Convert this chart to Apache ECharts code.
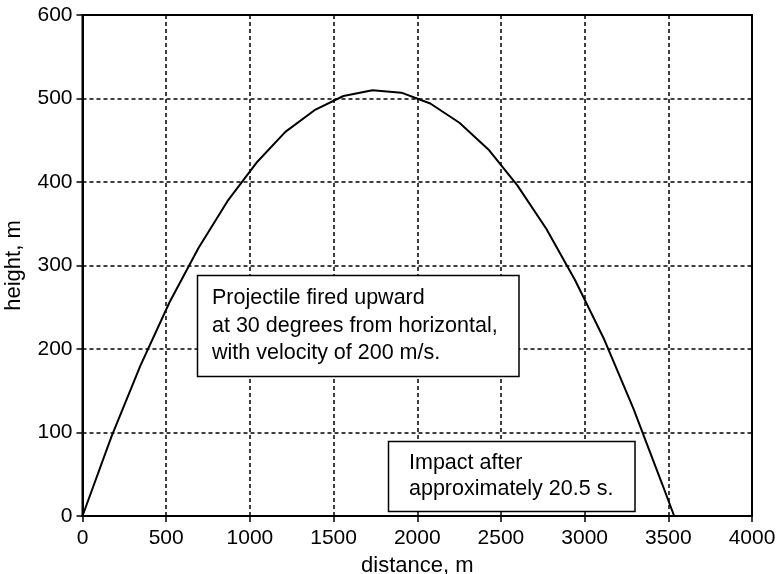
<!DOCTYPE html>
<html>
<head>
<meta charset="utf-8">
<script src="https://cdn.jsdelivr.net/npm/echarts@6/dist/echarts.min.js"></script>
<style>html,body{margin:0;padding:0;background:#fff;}#c{width:780px;height:574px;}</style>
</head>
<body>
<div id="c"></div>
<script>
// Trajectory (distance in m, height in m)
var distance = [0, 173, 346, 520, 693, 866, 1039, 1212, 1386, 1559, 1732, 1905, 2078, 2252, 2425, 2598, 2771, 2944, 3118, 3291, 3464, 3535];
var height   = [0, 95, 180, 256, 321, 377, 423, 460, 486, 503, 510, 507, 494, 471, 439, 396, 344, 282, 211, 129, 38, 0];
var xTicks = [0, 500, 1000, 1500, 2000, 2500, 3000, 3500, 4000];
var yTicks = [0, 100, 200, 300, 400, 500, 600];
var note1 = ['Projectile fired upward', 'at 30 degrees from horizontal,', 'with velocity of 200 m/s.'];
var note2 = ['Impact after', 'approximately 20.5 s.'];

var FONT = '"Liberation Sans", Arial, Helvetica, sans-serif';
var points = distance.map(function (d, i) { return [d, height[i]]; });

var chart = echarts.init(document.getElementById('c'), null, {renderer: 'canvas'});
chart.setOption({
  animation: false,
  backgroundColor: '#fff',
  grid: {left: 82.5, right: 28, top: 15, bottom: 58, outerBoundsMode: 'none', containLabel: false,
         show: true, borderColor: '#000', borderWidth: 2, backgroundColor: 'transparent'},
  xAxis: {
    type: 'value', min: xTicks[0], max: xTicks[xTicks.length - 1], interval: 500,
    name: 'distance, m', nameLocation: 'middle', nameGap: 39,
    nameTextStyle: {color: '#000', fontSize: 22, fontFamily: FONT},
    axisLine: {show: true, lineStyle: {color: '#000', width: 2}},
    axisTick: {show: true, inside: false, length: 6, lineStyle: {color: '#000', width: 1.5}},
    axisLabel: {color: '#000', fontSize: 21, fontFamily: FONT, margin: 12, formatter: function (v) { return String(v); }},
    splitLine: {show: true, lineStyle: {color: '#000', width: 1.5, type: [4, 3]}}
  },
  yAxis: {
    type: 'value', min: yTicks[0], max: yTicks[yTicks.length - 1], interval: 100,
    name: 'height, m', nameLocation: 'middle', nameGap: 58,
    nameTextStyle: {color: '#000', fontSize: 22, fontFamily: FONT},
    axisLine: {show: true, lineStyle: {color: '#000', width: 2}},
    axisTick: {show: true, inside: false, length: 6, lineStyle: {color: '#000', width: 1.5}},
    axisLabel: {color: '#000', fontSize: 21, fontFamily: FONT, margin: 10, formatter: function (v) { return String(v); }},
    splitLine: {show: true, lineStyle: {color: '#000', width: 1.5, type: [4, 3]}}
  },
  series: [{
    type: 'line', data: points, showSymbol: false, smooth: false, z: 3,
    lineStyle: {color: '#000', width: 2}
  }],
  graphic: [
    {type: 'rect', z: 100, zlevel: 1, shape: {x: 197.5, y: 275.5, width: 321.5, height: 101}, style: {fill: '#fff', stroke: '#000', lineWidth: 1.5}},
    {type: 'text', z: 101, zlevel: 1, x: 212, y: 284.5, style: {text: note1.join('\n'), fill: '#000', font: '21.5px ' + FONT, lineHeight: 27.5, verticalAlign: 'top', align: 'left'}},
    {type: 'rect', z: 100, zlevel: 1, shape: {x: 388.5, y: 441.5, width: 246.5, height: 70}, style: {fill: '#fff', stroke: '#000', lineWidth: 1.5}},
    {type: 'text', z: 101, zlevel: 1, x: 409, y: 450, style: {text: note2.join('\n'), fill: '#000', font: '21.5px ' + FONT, lineHeight: 26, verticalAlign: 'top', align: 'left'}}
  ]
});
</script>
</body>
</html>
